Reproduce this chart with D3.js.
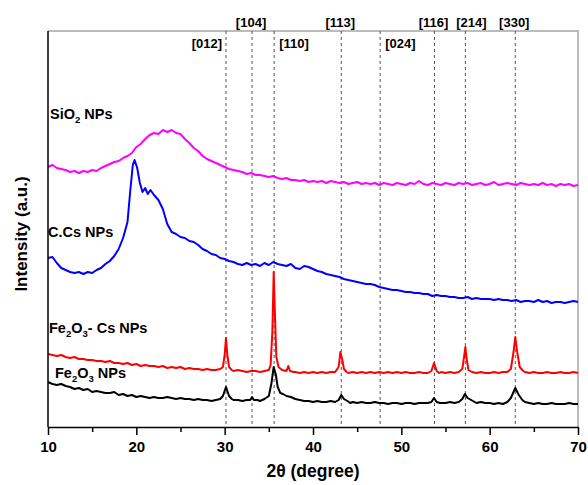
<!DOCTYPE html>
<html lang="en">
<head>
    <meta charset="UTF-8">
    <title>XRD patterns</title>
    <style>
        body { margin: 0; background: #fff; }
        text { font-family: Arial, "Liberation Sans", sans-serif; font-weight: bold; fill: #000; }
    </style>
</head>
<body>
    <svg></svg>
    <script src="https://d3js.org/d3.v7.min.js"></script>
    <script>
      // [2theta, intensity (a.u.)]
      const sio2 = [
        [10,260],[10.5,262],[11,259],[11.5,258],[12,257],[12.5,255],[13,256],[13.5,254],[14,256],[14.5,255],
        [15,257],[15.5,256],[16,259],[16.5,261],[17,263],[17.5,265],[18,266],[18.5,269],[19,271],[19.5,274],
        [20,280],[20.5,283],[21,288],[21.5,292],[22,294],[22.5,293],[23,297],[23.5,295],[24,297],[24.5,294],
        [25,293],[25.5,288],[26,284],[26.5,279],[27,276],[27.5,271],[28,268],[28.5,266],[29,264],[29.5,262],
        [30,260],[30.5,258],[31,257],[31.5,256],[32,255],[32.5,253],[33,254],[33.5,252],[34,252],[34.5,251],
        [35,250],[35.5,251],[36,249],[36.5,248],[37,249],[37.5,247],[38,247],[38.5,246],[39,247],[39.5,245],
        [40,246],[40.5,245],[41,246],[41.5,244],[42,246],[42.5,245],[43,244],[43.5,245],[44,243],[44.5,244],
        [45,245],[45.5,243],[46,244],[46.5,243],[47,244],[47.5,242],[48,244],[48.5,243],[49,242],[49.5,244],
        [50,243],[50.5,242],[51,244],[51.5,243],[52,246],[52.5,243],[53,242],[53.5,244],[54,243],[54.5,242],
        [55,244],[55.5,243],[56,242],[56.5,244],[57,243],[57.5,244],[58,242],[58.5,243],[59,244],[59.5,242],
        [60,243],[60.5,245],[61,242],[61.5,243],[62,244],[62.5,243],[63,242],[63.5,244],[64,243],[64.5,242],
        [65,243],[65.5,242],[66,244],[66.5,242],[67,243],[67.5,241],[68,243],[68.5,242],[69,243],[69.5,241],[70,242]
      ]

      const ccs = [
        [10,169],[10.5,170],[11,164],[11.5,159],[12,157],[12.5,155],[13,154],[13.5,155],[14,153],[14.5,155],
        [15,154],[15.5,157],[16,159],[16.5,163],[17,166],[17.5,171],[18,178],[18.5,189],[19,205],[19.3,235],
        [19.6,262],[19.8,267],[20.1,259],[20.4,244],[20.7,235],[21,239],[21.3,233],[21.6,237],[22,232],[22.5,227],
        [23,218],[23.5,203],[24,195],[24.5,193],[25,190],[25.5,189],[26,186],[26.5,185],[27,182],[27.5,178],
        [28,176],[28.5,173],[29,172],[29.5,169],[30,168],[30.5,166],[31,165],[31.5,163],[32,162],[32.5,164],
        [33,162],[33.5,163],[34,161],[34.5,164],[35,162],[35.5,165],[36,163],[36.5,162],[37,161],[37.5,163],
        [38,159],[38.5,158],[39,161],[39.5,160],[40,158],[40.5,156],[41,155],[41.5,153],[42,152],[42.5,151],
        [43,150],[43.5,148],[44,147],[44.5,146],[45,145],[45.5,144],[46,143],[46.5,143],[47,142],[47.5,140],
        [48,139],[48.5,138],[49,137],[49.5,137],[50,136],[50.5,135],[51,135],[51.5,134],[52,134],[52.5,133],
        [53,133],[53.5,131],[54,132],[54.5,131],[55,131],[55.5,130],[56,130],[56.5,129],[57,129],[57.5,130],
        [58,128],[58.5,129],[59,128],[59.5,128],[60,128],[60.5,127],[61,128],[61.5,127],[62,127],[62.5,126],
        [63,127],[63.5,125],[64,126],[64.5,126],[65,125],[65.5,127],[66,125],[66.5,126],[67,124],[67.5,125],
        [68,125],[68.5,124],[69,125],[69.5,126],[70,125]
      ]

      const fe2o3cs = [
        [10,73],[10.5,72],[11,71],[11.5,72],[12,70],[12.5,69],[13,70],[13.5,68],[14,68],[14.5,67],
        [15,67],[15.5,66],[16,66],[16.5,65],[17,66],[17.5,64],[18,64],[18.5,63],[19,64],[19.5,62],
        [20,63],[20.5,61],[21,62],[21.5,61],[22,61],[22.5,60],[23,61],[23.5,59],[24,60],[24.5,59],
        [25,60],[25.5,58],[26,59],[26.5,58],[27,58],[27.5,57],[28,58],[28.5,57],[29,57],[29.5,58],
        [29.8,60],[30,72],[30.15,89],[30.3,72],[30.5,60],[30.8,57],[31,56],[31.5,57],[32,56],[32.5,55],
        [33,56],[33.5,56],[34,55],[34.5,56],[35,57],[35.2,62],[35.4,95],[35.55,155],[35.7,110],[35.85,70],
        [36.1,60],[36.5,57],[37,56],[37.2,61],[37.4,56],[37.8,55],[38,55],[38.5,54],[39,55],[39.5,54],
        [40,55],[40.5,54],[41,55],[41.5,54],[42,55],[42.5,55],[42.9,60],[43.1,75],[43.3,68],[43.5,58],
        [43.8,55],[44,54],[44.5,55],[45,54],[45.5,55],[46,54],[46.5,55],[47,54],[47.5,55],[48,54],
        [48.5,55],[49,54],[49.5,55],[50,54],[50.5,55],[51,54],[51.5,54],[52,55],[52.5,54],[53,54],
        [53.4,56],[53.7,64],[54,56],[54.3,54],[54.5,55],[55,54],[55.5,55],[56,54],[56.5,55],[56.9,58],
        [57.1,70],[57.25,80],[57.4,68],[57.6,57],[58,55],[58.5,54],[59,55],[59.5,54],[60,54],[60.5,55],
        [61,54],[61.5,55],[62,55],[62.4,58],[62.7,75],[62.9,90],[63.1,76],[63.4,60],[63.8,56],[64,55],
        [64.5,54],[65,55],[65.5,54],[66,54],[66.5,55],[67,54],[67.5,54],[68,55],[68.5,54],[69,54],[69.5,55],[70,54]
      ]

      const fe2o3 = [
        [10,45],[10.5,43],[11,42],[11.5,43],[12,41],[12.5,40],[13,38],[13.5,39],[14,37],[14.5,38],
        [15,35],[15.5,36],[16,35],[16.5,34],[17,34],[17.5,35],[18,32],[18.5,33],[19,31],[19.5,32],
        [20,30],[20.5,31],[21,30],[21.5,29],[22,30],[22.5,29],[23,29],[23.5,30],[24,29],[24.5,28],
        [25,29],[25.5,28],[26,28],[26.5,27],[27,28],[27.5,27],[28,27],[28.5,26],[29,27],[29.5,28],
        [29.8,31],[30.15,40],[30.5,31],[30.8,28],[31,27],[31.5,27],[32,26],[32.5,27],[32.9,27],[33.1,30],
        [33.3,27],[33.7,27],[34,26],[34.5,28],[35,31],[35.3,44],[35.55,60],[35.8,52],[36,40],[36.3,34],
        [36.6,33],[37,31],[37.5,30],[38,28],[38.5,27],[39,26],[39.5,26],[40,25],[40.5,26],[41,25],
        [41.5,25],[42,26],[42.5,25],[42.9,27],[43.2,32],[43.5,28],[43.9,26],[44.2,24],[44.5,25],[45,24],
        [45.5,25],[46,24],[46.5,24],[47,25],[47.5,24],[48,24],[48.5,23],[49,24],[49.5,24],[50,23],
        [50.5,24],[51,24],[51.5,23],[52,24],[52.5,24],[53,24],[53.4,25],[53.7,29],[54,25],[54.4,24],
        [55,24],[55.5,25],[56,24],[56.5,25],[56.9,28],[57.2,33],[57.5,29],[57.9,27],[58.3,25],[58.5,24],
        [59,25],[59.5,24],[60,24],[60.5,23],[61,24],[61.5,23],[62,25],[62.4,29],[62.9,39],[63.3,32],
        [63.7,27],[64,25],[64.5,24],[65,23],[65.5,24],[66,23],[66.5,23],[67,24],[67.5,23],[68,23],
        [68.5,23],[69,24],[69.5,23],[70,23]
      ]

      // reflections marked with dashed lines
      const hkl = ["[012]", "[104]", "[110]", "[113]", "[024]", "[116]", "[214]", "[330]"]
      const peakPos = [30.15, 33.1, 35.6, 43.2, 47.6, 53.75, 57.25, 62.9]

      const xTicks = [10, 20, 30, 40, 50, 60, 70]
      const xMinorTicks = [15, 25, 35, 45, 55, 65]

      const width = 588;
      const height = 485;
      const padding = { top: 31, right: 10, bottom: 58, left: 48 };

      const svg = d3.select('svg').attr('width', width).attr('height', height)

      const xScale = d3.scaleLinear()
          .domain([10, 70])
          .range([padding.left, width - padding.right])

      const yScale = d3.scaleLinear()
          .domain([0, 396])
          .range([height - padding.bottom, padding.top])

      const x0 = padding.left, x1 = width - padding.right
      const y0 = height - padding.bottom, y1 = padding.top

      // top + right frame (grey)
      svg.append("path")
          .attr("d", `M${x0},${y1}H${x1}V${y0}`)
          .attr("fill", "none")
          .attr("stroke", "#a6a6a6")
          .attr("stroke-width", 1.5)

      // dashed reference lines
      svg.append("g")
          .selectAll("line")
          .data(peakPos)
          .join("line")
            .attr("x1", d => xScale(d)).attr("x2", d => xScale(d))
            .attr("y1", y1).attr("y2", y0)
            .attr("stroke", "#555")
            .attr("stroke-width", 1)
            .attr("stroke-dasharray", "3,3")

      // hkl labels: some above the frame, some inside next to the line
      const place = { "[012]": "in-left", "[110]": "in-right", "[024]": "in-right" }
      svg.append("g")
          .selectAll("text")
          .data(hkl)
          .join("text")
            .attr("font-size", 13)
            .attr("x", (d, i) => {
              const px = xScale(peakPos[i])
              if (place[d] === "in-left") return px - 4
              if (place[d] === "in-right") return px + 5
              return d === "[214]" ? px + 6 : px - 1
            })
            .attr("y", d => place[d] ? y1 + 17 : y1 - 4)
            .attr("text-anchor", d => place[d] === "in-left" ? "end" : place[d] ? "start" : "middle")
            .text(d => d)

      const line = d3.line()
          .x(d => xScale(d[0]))
          .y(d => yScale(d[1]))

      const series = [
        { data: sio2, color: "#ff00ff" },
        { data: ccs, color: "#0000ff" },
        { data: fe2o3cs, color: "#ff0000" },
        { data: fe2o3, color: "#000000" }
      ]

      svg.append("g")
            .attr("class", "lines")
          .selectAll("path")
          .data(series)
          .join("path")
            .attr("d", d => line(d.data))
            .attr("fill", "none")
            .attr("stroke", d => d.color)
            .attr("stroke-width", 2)
            .attr("stroke-linejoin", "round")

      // x axis
      const xAxis = g => g
          .attr("transform", `translate(0,${y0})`)
          .call(d3.axisBottom(xScale).tickValues(xTicks).tickSize(8).tickPadding(6).tickSizeOuter(0))
          .call(g => g.selectAll(".tick text").attr("font-size", 15).attr("font-family", null))
          .call(g => g.selectAll("line, path").attr("stroke", "#000").attr("stroke-width", 1.5))

      svg.append("g").attr("class", "x-axis").call(xAxis)

      svg.append("g")
          .attr("transform", `translate(0,${y0})`)
          .call(d3.axisBottom(xScale).tickValues(xMinorTicks).tickSize(5).tickFormat("").tickSizeOuter(0))
          .call(g => g.select(".domain").remove())
          .call(g => g.selectAll("line").attr("stroke", "#000").attr("stroke-width", 1.5))

      // y axis: plain line, no ticks
      svg.append("line")
          .attr("x1", x0).attr("x2", x0)
          .attr("y1", y1).attr("y2", y0)
          .attr("stroke", "#000")
          .attr("stroke-width", 1.5)

      // axis titles
      svg.append("text")
          .attr("x", (x0 + x1) / 2)
          .attr("y", 477)
          .attr("text-anchor", "middle")
          .attr("font-size", 17.5)
          .text("2\u03b8 (degree)")

      svg.append("text")
          .attr("transform", `translate(27,${(y0 + y1) / 2 + 5}) rotate(-90)`)
          .attr("text-anchor", "middle")
          .attr("font-size", 17)
          .text("Intensity (a.u.)")

      // sample labels, with subscripts
      const sampleLabels = [
        { parts: [["SiO", 0], ["2", 1], [" NPs", 0]], x: 50, y: 119 },
        { parts: [["C.Cs NPs", 0]], x: 48, y: 237 },
        { parts: [["Fe", 0], ["2", 1], ["O", 0], ["3", 1], ["- Cs NPs", 0]], x: 49, y: 333 },
        { parts: [["Fe", 0], ["2", 1], ["O", 0], ["3", 1], [" NPs", 0]], x: 55, y: 378 }
      ]

      sampleLabels.forEach(l => {
        const t = svg.append("text")
            .attr("x", l.x)
            .attr("y", l.y)
            .attr("font-size", 14.5)
        let prevSub = 0
        l.parts.forEach(([s, sub]) => {
          t.append("tspan")
              .attr("dy", sub === prevSub ? 0 : (sub ? 4 : -4))
              .attr("font-size", sub ? 9.5 : 14.5)
              .text(s)
          prevSub = sub
        })
      })
    </script>
</body>
</html>
